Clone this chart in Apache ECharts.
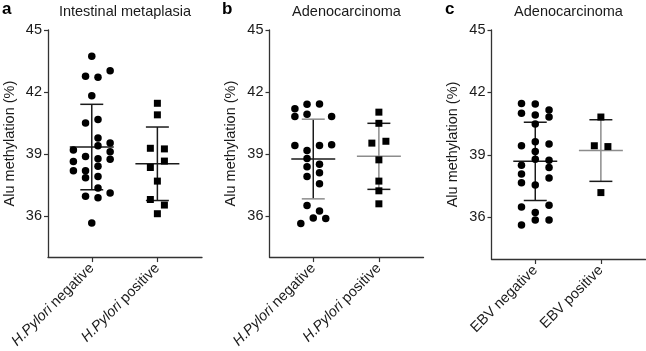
<!DOCTYPE html>
<html>
<head>
<meta charset="utf-8">
<script src="https://cdn.jsdelivr.net/npm/echarts@6/dist/echarts.min.js"></script>
<style>
  html, body { margin: 0; padding: 0; background: #fff; }
  #chart { width: 646px; height: 351px; }
</style>
</head>
<body>
<div id="chart"></div>
<script>
// ---------- data ----------
const panelLetters = ['a', 'b', 'c'];
const panelTitles = ['Intestinal metaplasia', 'Adenocarcinoma', 'Adenocarcinoma'];
const categoriesA = ['H.Pylori negative', 'H.Pylori positive'];
const categoriesB = ['H.Pylori negative', 'H.Pylori positive'];
const categoriesC = ['EBV negative', 'EBV positive'];
const yAxisName = 'Alu methylation (%)';
const yTickValues = [36, 39, 42, 45];
const yMin = 34;
const yMax = 45;

// Panel a
const aNegValues = [43.73, 43.03, 42.76, 42.71, 41.81, 40.66, 40.5, 39.77, 39.52, 39.39, 39.19, 39.1, 38.87, 38.76, 38.74, 38.63, 38.4, 38.18, 38.18, 37.9, 37.84, 37.34, 37.1, 36.95, 36.87, 35.65];
const aNegJitter = [0, 0.28, -0.095, 0.095, 0, 0.095, -0.095, 0.095, 0.28, 0.095, -0.28, 0.28, -0.095, 0.095, 0.28, -0.28, 0.095, -0.28, -0.095, 0.095, -0.095, 0.095, 0.28, -0.095, 0.095, 0];
const aPosValues = [41.45, 40.89, 39.27, 39.24, 38.65, 38.34, 37.68, 36.79, 36.52, 36.1];
const aPosJitter = [0, 0, -0.107, 0.107, 0.107, -0.107, 0, -0.107, 0.107, 0];
const aMean = [39.33, 38.52];
const aSD = [2.07, 1.78];

// Panel b
const bNegValues = [41.18, 41.4, 41.42, 40.81, 40.92, 40.81, 39.4, 39.4, 39.44, 39.16, 38.77, 38.5, 38.37, 38.08, 37.9, 37.55, 36.5, 36.23, 35.63, 35.89, 35.87];
const bNegJitter = [-0.28, -0.095, 0.095, -0.28, -0.095, 0.28, -0.28, 0.095, 0.28, -0.095, -0.095, 0.095, -0.095, 0.095, -0.095, 0.095, -0.095, 0.095, -0.19, 0, 0.19];
const bPosValues = [41.02, 40.48, 39.52, 39.61, 38.71, 37.68, 37.21, 36.58];
const bPosJitter = [0, 0, -0.107, 0.107, 0, 0, 0, 0];
const bMean = [38.75, 38.88];
const bSD = [1.93, 1.6];

// Panel c
const cNegValues = [41.47, 41.44, 41.16, 41.0, 40.92, 40.82, 40.48, 39.44, 39.63, 39.52, 39.16, 38.79, 38.74, 38.5, 38.39, 38.08, 37.89, 37.66, 37.55, 36.5, 36.58, 36.23, 35.87, 35.87, 35.63];
const cNegJitter = [-0.21, 0, 0.21, -0.21, 0, 0.21, 0, -0.21, 0, 0.21, 0, 0, 0.21, -0.21, 0.21, -0.21, 0.21, -0.21, 0, -0.21, 0.21, 0, 0, 0.21, -0.21];
const cPosValues = [40.82, 39.44, 39.4, 37.19];
const cPosJitter = [0, -0.1, 0.107, 0];
const cMean = [38.69, 39.21];
const cSD = [1.88, 1.48];

// ---------- styles / layout ----------
const FONT = "'Liberation Sans', Arial, Helvetica, sans-serif";
const DARK = '#1a1a1a';
const GRAY = '#8c8c8c';
const AXIS = '#333333';
const TEXT = '#1a1a1a';
const gridLefts = [48, 269.5, 491.5];
const gridWidth = 154;
const gridTop = 30;
const gridHeight = 229;
const xMin = -0.667, xMax = 1.68;
const meanHalf = 0.335, capHalf = 0.175;
// colors per group: [vertical, mean, caps]
const barColors = [
  [[DARK, DARK, DARK], [DARK, DARK, DARK]],
  [[DARK, DARK, GRAY], [GRAY, GRAY, DARK]],
  [[DARK, DARK, DARK], [GRAY, GRAY, DARK]]
];

const panels = [
  { cats: categoriesA, neg: aNegValues, negJ: aNegJitter, pos: aPosValues, posJ: aPosJitter, mean: aMean, sd: aSD },
  { cats: categoriesB, neg: bNegValues, negJ: bNegJitter, pos: bPosValues, posJ: bPosJitter, mean: bMean, sd: bSD },
  { cats: categoriesC, neg: cNegValues, negJ: cNegJitter, pos: cPosValues, posJ: cPosJitter, mean: cMean, sd: cSD }
];

const grids = [], xAxes = [], yAxes = [], series = [], graphics = [];

panels.forEach((p, i) => {
  grids.push({ left: gridLefts[i], top: gridTop, width: gridWidth, height: gridHeight });
  xAxes.push({
    type: 'value', gridIndex: i, min: xMin, max: xMax,
    splitLine: { show: false },
    axisLine: { show: true, onZero: false, lineStyle: { color: AXIS, width: 1.3 } },
    axisTick: { show: true, customValues: [0, 1], length: 5, lineStyle: { color: AXIS, width: 1.2 } },
    axisLabel: {
      customValues: [0, 1], rotate: 45, margin: 9,
      fontFamily: FONT, fontSize: 14.5, color: TEXT,
      formatter: function (v) {
        const name = p.cats[Math.round(v)] || '';
        if (name.indexOf('H.Pylori') === 0) {
          return '{i|H.Pylori}' + name.slice('H.Pylori'.length);
        }
        return name;
      },
      rich: { i: { fontStyle: 'italic', fontFamily: FONT, fontSize: 14.5, color: TEXT } }
    }
  });
  yAxes.push({
    type: 'value', gridIndex: i, min: yMin, max: yMax,
    name: yAxisName, nameLocation: 'middle', nameGap: 31,
    nameTextStyle: { fontFamily: FONT, fontSize: 14.5, color: TEXT },
    splitLine: { show: false },
    axisLine: { show: true, onZero: false, lineStyle: { color: AXIS, width: 1.3 } },
    axisTick: { show: true, customValues: yTickValues, length: 4, lineStyle: { color: AXIS, width: 1.2 } },
    axisLabel: { customValues: yTickValues, margin: 6, fontFamily: FONT, fontSize: 14.5, color: TEXT }
  });

  series.push({
    type: 'custom', xAxisIndex: i, yAxisIndex: i, silent: true, z: 2,
    data: p.mean.map((m, k) => [k, m, p.sd[k]]),
    renderItem: function (params, api) {
      const x = api.value(0), m = api.value(1), s = api.value(2);
      const col = barColors[i][params.dataIndex];
      const top = api.coord([x, m + s]), bot = api.coord([x, m - s]);
      const ml = api.coord([x - meanHalf, m]), mr = api.coord([x + meanHalf, m]);
      const tl = api.coord([x - capHalf, m + s]), tr = api.coord([x + capHalf, m + s]);
      const bl = api.coord([x - capHalf, m - s]), br = api.coord([x + capHalf, m - s]);
      const ln = (a, b, c) => ({ type: 'line', shape: { x1: a[0], y1: a[1], x2: b[0], y2: b[1] }, style: { stroke: c, lineWidth: 1.5 } });
      return {
        type: 'group',
        children: [ln(top, bot, col[0]), ln(ml, mr, col[1]), ln(tl, tr, col[2]), ln(bl, br, col[2])]
      };
    }
  });
  series.push({
    type: 'scatter', xAxisIndex: i, yAxisIndex: i, silent: true, z: 3,
    symbol: 'circle', symbolSize: 7.5, itemStyle: { color: '#000', opacity: 1 },
    data: p.neg.map((v, k) => [0 + p.negJ[k], v])
  });
  series.push({
    type: 'scatter', xAxisIndex: i, yAxisIndex: i, silent: true, z: 3,
    symbol: 'rect', symbolSize: 7, itemStyle: { color: '#000', opacity: 1 },
    data: p.pos.map((v, k) => [1 + p.posJ[k], v])
  });

  graphics.push({
    type: 'text', x: [2, 222, 445][i], y: 9,
    style: { text: panelLetters[i], font: 'bold 17px ' + FONT, fill: '#000', align: 'left', verticalAlign: 'middle' }
  });
  graphics.push({
    type: 'text', x: gridLefts[i] + gridWidth / 2, y: 12,
    style: { text: panelTitles[i], font: '14.5px ' + FONT, fill: TEXT, align: 'center', verticalAlign: 'middle' }
  });
});

const chart = echarts.init(document.getElementById('chart'), null, { renderer: 'canvas' });
chart.setOption({
  animation: false,
  backgroundColor: '#fff',
  grid: grids,
  xAxis: xAxes,
  yAxis: yAxes,
  series: series,
  graphic: graphics
});
</script>
</body>
</html>
